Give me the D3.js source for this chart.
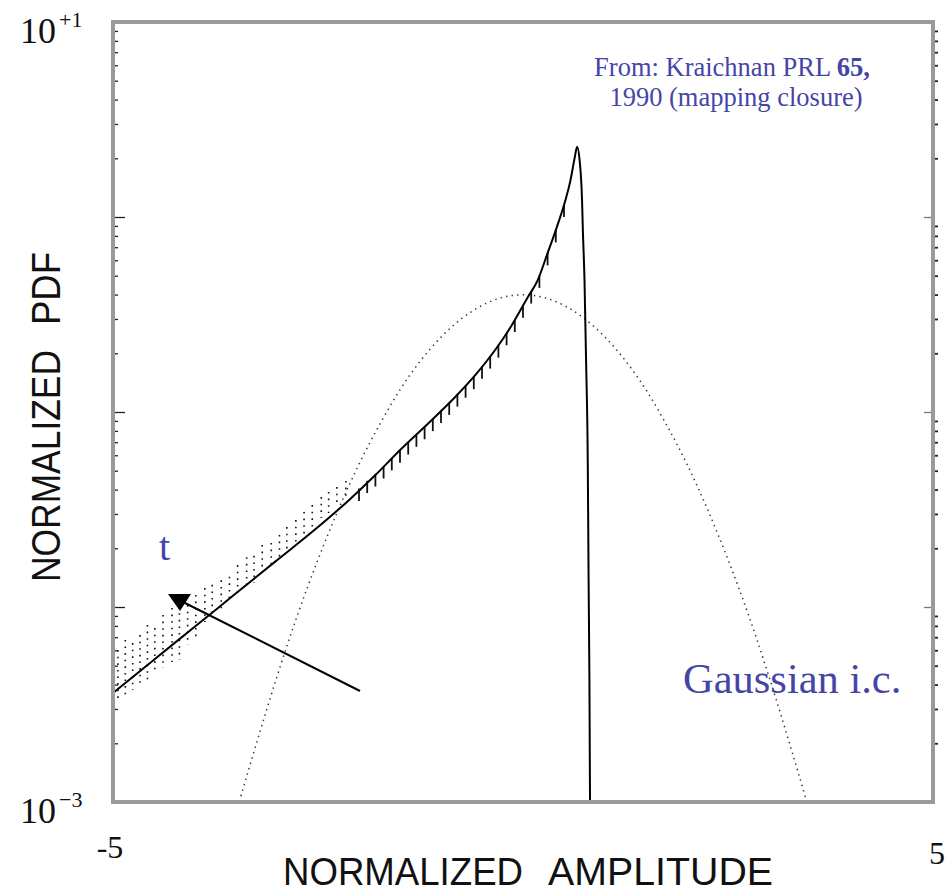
<!DOCTYPE html>
<html>
<head>
<meta charset="utf-8">
<script src="https://cdn.jsdelivr.net/npm/d3@7"></script>
<style>
  html, body { margin: 0; padding: 0; background: #fff; }
  svg { display: block; }
</style>
</head>
<body>
<div id="chart"></div>
<script>
// ---------------- DATA ----------------
// Mapping-closure PDF (solid curve)
const ampX = [-5.00, -4.50, -4.00, -3.50, -3.00, -2.50, -2.12, -1.80, -1.48, -1.15, -0.83, -0.58, -0.34, -0.15,
              0.06, 0.18, 0.30, 0.40, 0.51, 0.58, 0.63, 0.66, 0.69, 0.72, 0.73, 0.75, 0.77, 0.79, 0.80, 0.81, 0.82];
const pdfY = [0.00362, 0.00537, 0.00794, 0.01175, 0.01738, 0.0257, 0.0354, 0.0475, 0.0650, 0.0879, 0.119, 0.155, 0.208, 0.273,
              0.389, 0.475, 0.653, 0.857, 1.19, 1.55, 2.01, 2.29, 1.96, 1.22, 0.857, 0.475, 0.178, 0.0547, 0.0137, 0.00423, 0.0006];

// Initial Gaussian (dotted curve)
const gaussX = [-3.55, -3.46, -3.25, -3.0, -2.75, -2.5, -2.25, -2.0, -1.75, -1.5, -1.25, -1.0, -0.75, -0.5, -0.25, 0,
                0.25, 0.5, 0.75, 1.0, 1.25, 1.5, 1.75, 2.0, 2.25, 2.5, 2.75, 3.0, 3.25, 3.46, 3.55];
const gaussY = [0.00073, 0.0010, 0.0020, 0.0044, 0.0091, 0.0175, 0.0317, 0.054, 0.086, 0.130, 0.183, 0.242, 0.301, 0.352, 0.387, 0.399,
                0.387, 0.352, 0.301, 0.242, 0.183, 0.130, 0.086, 0.054, 0.0317, 0.0175, 0.0091, 0.0044, 0.0020, 0.0010, 0.00073];

// Simulation data, scattered columns in the left tail
const scatX  = [-4.94, -4.85, -4.76, -4.67, -4.58, -4.49, -4.39, -4.28, -4.19, -4.09, -3.99, -3.88, -3.79, -3.68, -3.58,
                -3.48, -3.37, -3.28, -3.18, -3.07, -2.97, -2.88, -2.77, -2.67, -2.57, -2.46, -2.37, -2.27, -2.16];
const scatHi = [0.00601, 0.00678, 0.00653, 0.00718, 0.00809, 0.00780, 0.00910, 0.00989, 0.01086, 0.01023, 0.01153, 0.0125, 0.0130, 0.0137, 0.0143,
                0.0164, 0.0180, 0.0183, 0.0208, 0.0213, 0.0234, 0.0257, 0.0279, 0.0307, 0.0333, 0.0366, 0.0389, 0.0412, 0.0443];
const scatLo = [0.00333, 0.00354, 0.00375, 0.00398, 0.00423, 0.00465, 0.00487, 0.00522, 0.00535, 0.00638, 0.00678, 0.00838, 0.0091, 0.00966, 0.01086,
                0.01153, 0.0130, 0.0133, 0.0146, 0.0158, 0.0178, 0.0196, 0.0213, 0.0234, 0.0257, 0.0286, 0.0303, 0.0333, 0.0354];

// Simulation data, short marks hanging under the curve
const markX  = [-2.0, -1.9, -1.8, -1.7, -1.6, -1.5, -1.4, -1.3, -1.2, -1.1, -1.0, -0.9, -0.8, -0.7, -0.6, -0.5, -0.4, -0.3, -0.2, -0.1,
                0.0, 0.1, 0.2, 0.3, 0.4, 0.5];
const markHi = [0.0405, 0.0444, 0.0480, 0.0527, 0.0580, 0.0636, 0.0700, 0.0767, 0.0839, 0.0923, 0.1016, 0.1117, 0.1233, 0.1368, 0.1517, 0.171, 0.193, 0.220, 0.254, 0.297,
                0.352, 0.416, 0.501, 0.653, 0.857, 1.16];
const markLo = [0.0350, 0.0384, 0.0415, 0.0456, 0.0502, 0.0550, 0.0605, 0.0663, 0.0725, 0.0798, 0.0878, 0.0966, 0.1066, 0.1183, 0.131, 0.148, 0.167, 0.190, 0.220, 0.257,
                0.304, 0.360, 0.433, 0.565, 0.741, 1.00];

// Axis tick values and labels
const xDomain = [-5, 5];
const yDomain = [1e-3, 10];
const xTickValues = [-5, 5];
const xTickLabels = ["-5", "5"];
const yLabelValues = [10, 1e-3];
const yLabelExps = ["+1", "\u22123"];
const yMajor = [1e-3, 1e-2, 1e-1, 1, 10];

// ---------------- LAYOUT ----------------
const W = 951, H = 892;
const pL = 113, pR = 933, pT = 22, pB = 802;
const blue = "#4545a8";
const serif = "'Liberation Serif', 'Times New Roman', serif";
const sans = "'Liberation Sans', Arial, Helvetica, sans-serif";

const svg = d3.select("#chart").append("svg").attr("width", W).attr("height", H);

const x = d3.scaleLinear().domain(xDomain).range([pL, pR]);
const y = d3.scaleLog().domain(yDomain).range([pB, pT]);

// minor ticks (2..9 in each decade)
const yMinor = [];
for (let e = -3; e < 1; e++) for (let m = 2; m <= 9; m++) yMinor.push(m * Math.pow(10, e));

svg.append("defs").append("clipPath").attr("id", "plotclip")
  .append("rect").attr("x", pL).attr("y", pT).attr("width", pR - pL).attr("height", pB - pT);

// ---- left axis ticks (pointing inward)
const gL1 = svg.append("g").attr("transform", `translate(${pL},0)`)
  .call(d3.axisRight(y).tickValues(yMinor).tickSize(5).tickFormat(""));
const gL2 = svg.append("g").attr("transform", `translate(${pL},0)`)
  .call(d3.axisRight(y).tickValues(yMajor).tickSize(12).tickFormat(""));
// ---- right axis ticks
const gR1 = svg.append("g").attr("transform", `translate(${pR},0)`)
  .call(d3.axisRight(y).tickValues(yMinor).tickSize(5).tickFormat(""));
const gR2 = svg.append("g").attr("transform", `translate(${pR},0)`)
  .call(d3.axisLeft(y).tickValues(yMajor).tickSize(9).tickFormat(""));
[gL1, gL2, gR1, gR2].forEach(g => {
  g.select(".domain").remove();
  g.selectAll("line").attr("stroke", "#222").attr("stroke-width", 1.3);
});
gR1.selectAll("line").attr("stroke-width", 1.8);
gR2.selectAll("line").attr("stroke", "#777");

const plot = svg.append("g").attr("clip-path", "url(#plotclip)");

// Gaussian (dotted)
const gaussData = gaussX.map((v, i) => [v, gaussY[i]]);
plot.append("path")
  .datum(gaussData)
  .attr("fill", "none")
  .attr("stroke", "#333")
  .attr("stroke-width", 1.5)
  .attr("stroke-dasharray", "1.4,4.2")
  .attr("d", d3.line().x(d => x(d[0])).y(d => y(d[1])).curve(d3.curveMonotoneX));

// scattered simulation columns (dotted verticals)
plot.selectAll("line.scat")
  .data(scatX.map((v, i) => ({ x: v, hi: scatHi[i], lo: scatLo[i] })))
  .join("line")
  .attr("class", "scat")
  .attr("x1", d => x(d.x)).attr("x2", d => x(d.x))
  .attr("y1", d => y(d.hi)).attr("y2", d => y(d.lo))
  .attr("stroke", "#111")
  .attr("stroke-width", 1.6)
  .attr("stroke-dasharray", "1.6,5");

// short marks under curve
plot.selectAll("line.mark")
  .data(markX.map((v, i) => ({ x: v, hi: markHi[i], lo: markLo[i] })))
  .join("line")
  .attr("class", "mark")
  .attr("x1", d => x(d.x)).attr("x2", d => x(d.x))
  .attr("y1", d => y(d.hi)).attr("y2", d => y(d.lo))
  .attr("stroke", "#111")
  .attr("stroke-width", 1.8);

// main PDF curve
const mainData = ampX.map((v, i) => [v, pdfY[i]]);
plot.append("path")
  .datum(mainData)
  .attr("fill", "none")
  .attr("stroke", "#000")
  .attr("stroke-width", 2)
  .attr("stroke-linejoin", "round")
  .attr("d", d3.line().x(d => x(d[0])).y(d => y(d[1])).curve(d3.curveMonotoneX));

// frame
svg.append("rect")
  .attr("x", pL).attr("y", pT)
  .attr("width", pR - pL).attr("height", pB - pT)
  .attr("fill", "none").attr("stroke", "#9a9a9a").attr("stroke-width", 4);

// y tick labels 10^+1, 10^-3
yLabelValues.forEach((v, i) => {
  const t = svg.append("text")
    .attr("x", 20).attr("y", y(v) + 21)
    .attr("font-family", serif).attr("font-size", 36).attr("fill", "#111");
  t.append("tspan").text("10");
  t.append("tspan").attr("dy", -16).attr("font-size", 22).attr("dx", 3).text(yLabelExps[i]);
});

// x tick labels
xTickValues.forEach((v, i) => {
  svg.append("text")
    .attr("x", x(v) + (v < 0 ? -3 : 4)).attr("y", v < 0 ? 858 : 864)
    .attr("text-anchor", "middle")
    .attr("font-family", serif).attr("font-size", 32).attr("fill", "#111")
    .text(xTickLabels[i]);
});

// axis titles
svg.append("text").attr("x", 283).attr("y", 885)
  .attr("font-family", sans).attr("font-size", 39).attr("fill", "#111")
  .attr("textLength", 240).attr("lengthAdjust", "spacingAndGlyphs")
  .text("NORMALIZED");
svg.append("text").attr("x", 548).attr("y", 885)
  .attr("font-family", sans).attr("font-size", 39).attr("fill", "#111")
  .attr("textLength", 225).attr("lengthAdjust", "spacingAndGlyphs")
  .text("AMPLITUDE");

const yl = svg.append("g").attr("transform", "translate(60,0) rotate(-90)");
yl.append("text").attr("x", -582).attr("y", 0)
  .attr("font-family", sans).attr("font-size", 40).attr("fill", "#111")
  .attr("textLength", 232).attr("lengthAdjust", "spacingAndGlyphs")
  .text("NORMALIZED");
yl.append("text").attr("x", -325).attr("y", 0)
  .attr("font-family", sans).attr("font-size", 40).attr("fill", "#111")
  .attr("textLength", 73).attr("lengthAdjust", "spacingAndGlyphs")
  .text("PDF");

// annotations
const src = svg.append("text").attr("x", 732).attr("y", 76).attr("text-anchor", "middle")
  .attr("font-family", serif).attr("font-size", 26.5).attr("fill", blue);
src.append("tspan").text("From: Kraichnan PRL ");
src.append("tspan").attr("font-weight", "bold").text("65,");
svg.append("text").attr("x", 736).attr("y", 106).attr("text-anchor", "middle")
  .attr("font-family", serif).attr("font-size", 26.5).attr("fill", blue)
  .text("1990 (mapping closure)");

svg.append("text").attr("x", 159).attr("y", 560)
  .attr("font-family", serif).attr("font-size", 40).attr("fill", blue).text("t");
svg.append("text").attr("x", 683).attr("y", 693)
  .attr("font-family", serif).attr("font-size", 42.5).attr("fill", blue).text("Gaussian i.c.");

// arrow
svg.append("line").attr("x1", 360).attr("y1", 691).attr("x2", 183).attr("y2", 602)
  .attr("stroke", "#000").attr("stroke-width", 2);
svg.append("path").attr("d", "M168,594 L191,594 L180,611 Z").attr("fill", "#000");
</script>
</body>
</html>
